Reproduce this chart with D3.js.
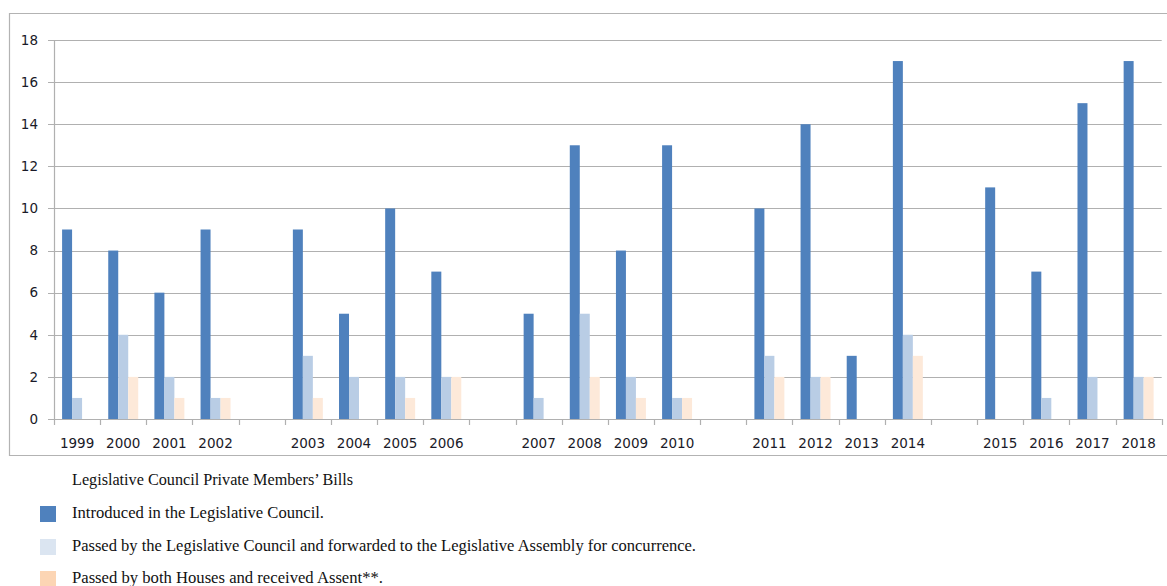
<!DOCTYPE html>
<html><head><meta charset="utf-8">
<script src="https://cdn.jsdelivr.net/npm/d3@7"></script>
<style>body{margin:0;background:#fff}svg{display:block}</style>
</head><body><svg id="c" width="1167" height="586"></svg>
<script>
const slots = ["1999","2000","2001","2002","g1","2003","2004","2005","2006","g2","2007","2008","2009","2010","g3","2011","2012","2013","2014","g4","2015","2016","2017","2018"];
const years = ["1999","2000","2001","2002","2003","2004","2005","2006","2007","2008","2009","2010","2011","2012","2013","2014","2015","2016","2017","2018"];
const introduced = [9,8,6,9,9,5,10,7,5,13,8,13,10,14,3,17,11,7,15,17];
const passedLC   = [1,4,2,1,3,2,2,2,1,5,2,1,3,2,0,4,0,1,2,2];
const assent     = [0,2,1,1,1,0,1,2,0,2,1,1,2,2,0,3,0,0,0,2];
const seriesNames = ["Introduced in the Legislative Council.","Passed by the Legislative Council and forwarded to the Legislative Assembly for concurrence.","Passed by both Houses and received Assent**."];
const legendTitle = "Legislative Council Private Members\u2019 Bills";
const yTicks = [0,2,4,6,8,10,12,14,16,18];

const barColors = ["#4f81bd","#b9cde5","#fde9d9"];
const legendColors = ["#4f81bd","#dbe5f1","#fcd5b4"];

const svg = d3.select("#c");
const L = 54, R = 1161.7, T = 40, B = 419;
const x = d3.scaleBand().domain(slots).range([L, R]).paddingInner(0).paddingOuter(0);
const sub = d3.scaleBand().domain([0,1,2]).range([0, x.bandwidth()]).paddingInner(0).paddingOuter(0.81);
const y = d3.scaleLinear().domain([0,18]).range([B, T]);

// border
svg.append("path").attr("d", `M1167,13.5 H9.5 V455.5 H1167`).attr("fill","none").attr("stroke","#b3b3b3").attr("stroke-width",1.2);

// gridlines
const grid = "#b0b0b0";
svg.append("g").selectAll("line").data(yTicks).join("line")
  .attr("x1", 48).attr("x2", R).attr("y1", d=>Math.round(y(d))+0.5).attr("y2", d=>Math.round(y(d))+0.5)
  .attr("stroke", grid).attr("stroke-width",1.2);
// y axis line
svg.append("line").attr("x1",L+0.5).attr("x2",L+0.5).attr("y1",T).attr("y2",B+6).attr("stroke",grid).attr("stroke-width",1.2);
// x ticks at slot boundaries
const bounds = slots.map(s=>x(s)).concat([R]);
svg.append("g").selectAll("line").data(bounds.slice(1)).join("line")
  .attr("x1", d=>Math.round(d)+0.5).attr("x2", d=>Math.round(d)+0.5).attr("y1", B).attr("y2", B+6)
  .attr("stroke", grid).attr("stroke-width",1.2);

// y labels
svg.append("g").selectAll("text").data(yTicks).join("text")
  .attr("x", 38).attr("y", d=>y(d)).attr("dy","0.35em").attr("text-anchor","end")
  .attr("font-family","DejaVu Sans").attr("font-size",13.5).attr("fill","#1a1a28").text(d=>d);

// x labels
svg.append("g").selectAll("text").data(years).join("text")
  .attr("x", d=>x(d)+x.bandwidth()/2).attr("y", 448).attr("text-anchor","middle")
  .attr("font-family","DejaVu Sans").attr("font-size",13.5).attr("fill","#1a1a28").text(d=>d);

// bars
const series = [introduced, passedLC, assent];
series.forEach((vals, si) => {
  svg.append("g").selectAll("rect").data(years.map((yr,i)=>({yr, v: vals[i]})).filter(d=>d.v>0)).join("rect")
    .attr("x", d=>x(d.yr)+sub(si)).attr("width", sub.bandwidth())
    .attr("y", d=>y(d.v)).attr("height", d=>B - y(d.v))
    .attr("fill", barColors[si]);
});

// legend
const lf = "Liberation Serif";
svg.append("text").attr("x",72).attr("y",485).attr("font-family",lf).attr("font-size",16).attr("fill","#111")
  .attr("textLength",281).attr("lengthAdjust","spacingAndGlyphs").text(legendTitle);
const ly = [518, 551, 583];
const lw = [252, 624, 311];
seriesNames.forEach((n,i)=>{
  svg.append("rect").attr("x",40).attr("y",ly[i]-12).attr("width",16).attr("height",16).attr("fill",legendColors[i]);
  svg.append("text").attr("x",72).attr("y",ly[i]).attr("font-family",lf).attr("font-size",16).attr("fill","#111")
    .attr("textLength",lw[i]).attr("lengthAdjust","spacingAndGlyphs").text(n);
});
</script></body></html>
